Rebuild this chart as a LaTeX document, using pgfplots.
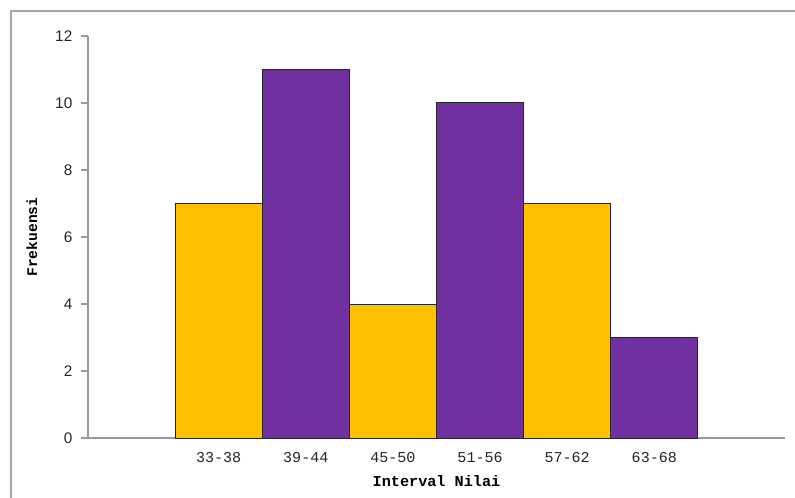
\documentclass[border=0pt]{standalone}
\usepackage{fontspec}
\setmainfont{Liberation Sans}
\newfontfamily\monofont{Liberation Mono}
\usepackage{pgfplots}
\pgfplotsset{compat=1.18}

\definecolor{barYellow}{HTML}{FFC000}
\definecolor{barPurple}{HTML}{7030A0}
\definecolor{axisGray}{HTML}{999999}
\definecolor{frameGray}{HTML}{A6A6A6}

\begin{document}
\begin{tikzpicture}[x=0.75pt,y=0.75pt]
\useasboundingbox (0,0) rectangle (795,497);
% outer frame (top and left edges)
\draw[frameGray, line width=1.5pt] (11,-5) -- (11,486) -- (800,486);

\begin{axis}[
  at={(66pt,44.25pt)}, anchor=south west,
  scale only axis,
  width=522.75pt, height=301.5pt,
  xmin=-1.5, xmax=6.5,
  ymin=0, ymax=12,
  ytick={0,2,...,12},
  xtick={0,...,5},
  xticklabels={33-38,39-44,45-50,51-56,57-62,63-68},
  axis x line*=bottom,
  axis y line*=left,
  axis line style={axisGray, line width=0.8pt, -},
  tick align=outside,
  major tick length=5.25pt,
  ytick style={axisGray, line width=0.8pt},
  xtick style={draw=none},
  /pgf/number format/assume math mode=true,
  yticklabel style={font=\fontsize{11.5}{12}\selectfont, text=black!85, xshift=-3pt},
  xticklabel style={font=\monofont\fontsize{11.3}{12}\selectfont, text=black!85, yshift=-2pt},
  bar width=1,
  clip=false,
]
\addplot[ybar, bar shift=0pt, fill=barYellow, draw=black!85, line width=0.75pt]
  coordinates {(0,7) (2,4) (4,7)};
\addplot[ybar, bar shift=0pt, fill=barPurple, draw=black!85, line width=0.75pt]
  coordinates {(1,11) (3,10) (5,3)};
\end{axis}

\node[font=\monofont\bfseries\fontsize{11.4}{12}\selectfont] at (436.5,16) {Interval Nilai};
\node[font=\monofont\bfseries\fontsize{11}{12}\selectfont, rotate=90] at (32,260) {Frekuensi};
\end{tikzpicture}
\end{document}
